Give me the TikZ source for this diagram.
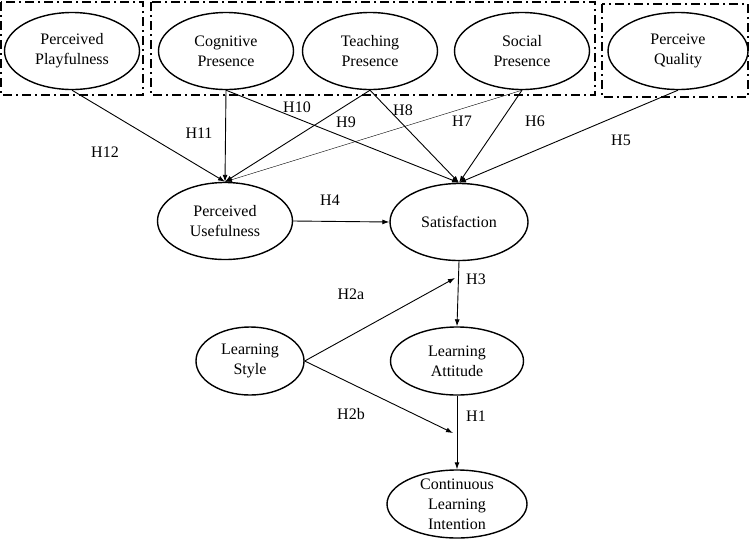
\documentclass[tikz,border=0pt]{standalone}
\usepackage{fontspec}
\setmainfont{Liberation Serif}
\usetikzlibrary{shapes.geometric,arrows.meta}

\begin{document}
\begin{tikzpicture}[x=1pt,y=-1pt,font=\fontsize{16}{20}\selectfont,
    construct/.style={ellipse,draw,line width=1.4pt,minimum width=135pt,minimum height=77pt,inner sep=0pt,align=center},
    hyp/.style={-{Latex[length=7pt,width=5pt]},line width=0.9pt},
    groupbox/.style={dash pattern=on 9pt off 4pt on 2pt off 4pt,line width=1.4pt}]
    \useasboundingbox (0,0) rectangle (750,539);
    % dash-dot group boxes
    \draw[groupbox] (1,2) rectangle (143,95);
    \draw[groupbox] (151,2) rectangle (595,95);
    \draw[groupbox] (602,4) rectangle (748,97);
    % constructs
    \node[construct] (pp) at (72,51) {Perceived\\Playfulness};
    \node[construct] (cp) at (226,51) {Cognitive\\Presence};
    \node[construct] (tp) at (370,51) {Teaching\\Presence};
    \node[construct] (sp) at (522,51) {Social\\Presence};
    \node[construct,minimum width=140pt] (pq) at (678,51) {Perceive\\Quality};
    \node[construct] (pu) at (225,221) {Perceived\\Usefulness};
    \node[construct,minimum width=138pt] (sat) at (459,222) {Satisfaction};
    \node[construct,minimum width=108pt,minimum height=68pt] (ls) at (250,361) {Learning\\Style};
    \node[construct,minimum width=133pt,minimum height=68pt] (la) at (457,361) {Learning\\Attitude};
    \node[construct,minimum width=140pt,minimum height=68pt,inner ysep=-6pt] (cli) at (457,504) {Continuous\\Learning\\Intention};
    \coordinate (h2a) at (455,278);
    \coordinate (h2b) at (453,433);
    % hypotheses
    \draw[hyp] (pp.south) -- (pu.north);
    \draw[hyp] (cp.south) -- (pu.north);
    \draw[hyp] (tp.south) -- (pu.north);
    \draw[hyp,line width=0.4pt] (sp.south) -- (pu.north);
    \draw[hyp] (cp.south) -- (sat.north);
    \draw[hyp] (tp.south) -- (sat.north);
    \draw[hyp] (sp.south) -- (sat.north);
    \draw[hyp] (pq.south) -- (sat.north);
    \draw[hyp] (pu.east) -- (sat.west);
    \draw[hyp] (sat.south) -- (la.north);
    \draw[hyp] (la.south) -- (cli.north);
    \draw[hyp] (ls.east) -- (h2a);
    \draw[hyp] (ls.east) -- (h2b);
    % labels
    \node (l12) at (105,152) {H12};
    \node (l11) at (199,133) {H11};
    \node (l10) at (297,107) {H10};
    \node (l9) at (346,122) {H9};
    \node (l8) at (403,110) {H8};
    \node (l7) at (462,121) {H7};
    \node (l6) at (535,121) {H6};
    \node (l5) at (621,140) {H5};
    \node (l4) at (330,200) {H4};
    \node (l3) at (476,279) {H3};
    \node (l2a) at (351,294) {H2a};
    \node (l2b) at (351,414) {H2b};
    \node (l1) at (476,416) {H1};
\end{tikzpicture}
\end{document}
